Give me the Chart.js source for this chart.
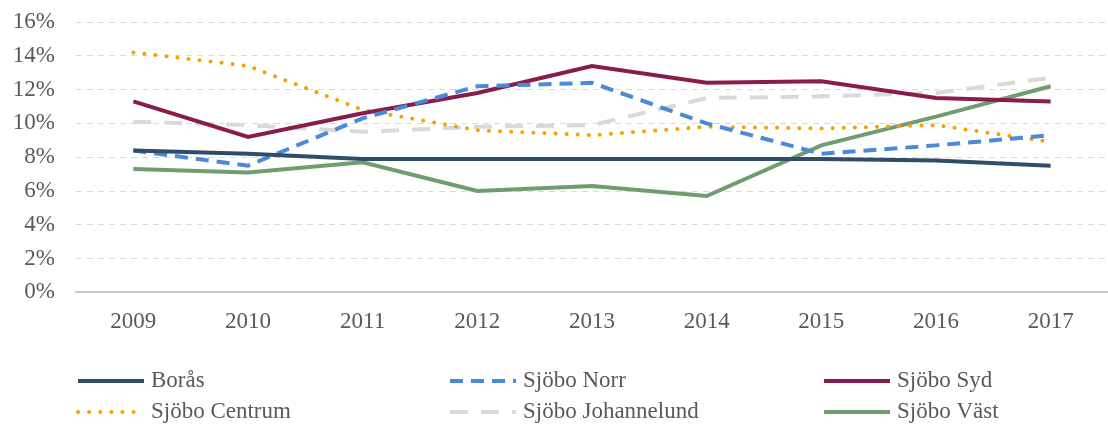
<!DOCTYPE html>
<html>
<head>
<meta charset="utf-8">
<script src="https://cdn.jsdelivr.net/npm/chart.js@4/dist/chart.umd.min.js"></script>
<style>
  html, body { margin: 0; padding: 0; background: #fff; }
  #wrap { width: 1108px; height: 425px; position: relative; }
</style>
</head>
<body>
<div id="wrap"><canvas id="lineChart"></canvas></div>
<script>
var years = ["2009", "2010", "2011", "2012", "2013", "2014", "2015", "2016", "2017"];
var boras = [8.4, 8.2, 7.9, 7.9, 7.9, 7.9, 7.9, 7.8, 7.5];
var sjoboNorr = [8.4, 7.5, 10.3, 12.2, 12.4, 10.0, 8.2, 8.7, 9.3];
var sjoboSyd = [11.3, 9.2, 10.6, 11.8, 13.4, 12.4, 12.5, 11.5, 11.3];
var sjoboCentrum = [14.2, 13.4, 10.8, 9.6, 9.3, 9.8, 9.7, 9.9, 8.9];
var sjoboJohannelund = [10.1, 9.9, 9.5, 9.8, 9.9, 11.5, 11.6, 11.8, 12.7];
var sjoboVast = [7.3, 7.1, 7.7, 6.0, 6.3, 5.7, 8.7, 10.4, 12.2];
var yTicks = [0, 2, 4, 6, 8, 10, 12, 14, 16];

var fontFamily = "'Liberation Serif', 'DejaVu Serif', serif";

// legend drawn in 3 columns, 2 rows like the original
var gridLegend = {
  id: "gridLegend",
  afterDraw: (chart) => {
    var c = chart.ctx;
    var cols = [78, 450, 824];
    var rows = [381, 412];
    chart.data.datasets.forEach((ds, i) => {
      var x = cols[i % 3];
      var y = rows[Math.floor(i / 3)];
      c.save();
      c.strokeStyle = ds.borderColor;
      c.lineWidth = 4;
      c.lineCap = ds.borderCapStyle || "butt";
      c.setLineDash(ds.borderDash || []);
      c.beginPath();
      c.moveTo(x, y);
      c.lineTo(x + 66, y);
      c.stroke();
      c.restore();
      c.save();
      c.fillStyle = "#595959";
      c.font = "23px " + fontFamily;
      c.textBaseline = "middle";
      c.fillText(ds.label, x + 73, y);
      c.restore();
    });
  },
};

var ctx = document.getElementById("lineChart").getContext("2d");
var myChart = new Chart(ctx, {
  type: "line",
  data: {
    labels: years,
    datasets: [
      { label: "Borås", data: boras, borderColor: "#2f4d6b" },
      { label: "Sjöbo Norr", data: sjoboNorr, borderColor: "#4a8ad8", borderDash: [13, 8] },
      { label: "Sjöbo Syd", data: sjoboSyd, borderColor: "#8a1c4b" },
      { label: "Sjöbo Centrum", data: sjoboCentrum, borderColor: "#f5a300", borderDash: [0.1, 11], borderCapStyle: "round" },
      { label: "Sjöbo Johannelund", data: sjoboJohannelund, borderColor: "#d9d9d9", borderDash: [18, 13] },
      { label: "Sjöbo Väst", data: sjoboVast, borderColor: "#6f9d6f" },
    ].map((d) => Object.assign({ borderWidth: 4, pointRadius: 0, tension: 0, fill: false }, d)),
  },
  options: {
    responsive: true,
    maintainAspectRatio: false,
    animation: false,
    layout: {
      padding: { top: 22, right: -7, bottom: 73, left: 13 },
    },
    scales: {
      x: {
        offset: true,
        afterFit: (axis) => {
          axis.paddingLeft = 0;
          axis.paddingRight = -7;
        },
        grid: { display: false, drawTicks: false },
        border: { display: true, color: "#c8c8c8", width: 2 },
        ticks: { color: "#595959", font: { family: fontFamily, size: 23 }, padding: 16, autoSkip: false, maxRotation: 0 },
      },
      y: {
        min: 0,
        max: 16,
        afterBuildTicks: (axis) => {
          axis.ticks = yTicks.map((v) => ({ value: v }));
        },
        afterFit: (axis) => {
          axis.width = 63;
          axis.paddingTop = 0;
          axis.paddingBottom = 0;
        },
        grid: { color: "#d9d9d9", lineWidth: 1, drawTicks: false },
        border: { display: false, dash: [6, 5] },
        ticks: {
          color: "#595959",
          font: { family: fontFamily, size: 23 },
          padding: 21,
          autoSkip: false,
          callback: (v) => v + "%",
        },
      },
    },
    plugins: {
      legend: { display: false },
      tooltip: { enabled: false },
    },
  },
  plugins: [gridLegend],
});
</script>
</body>
</html>
